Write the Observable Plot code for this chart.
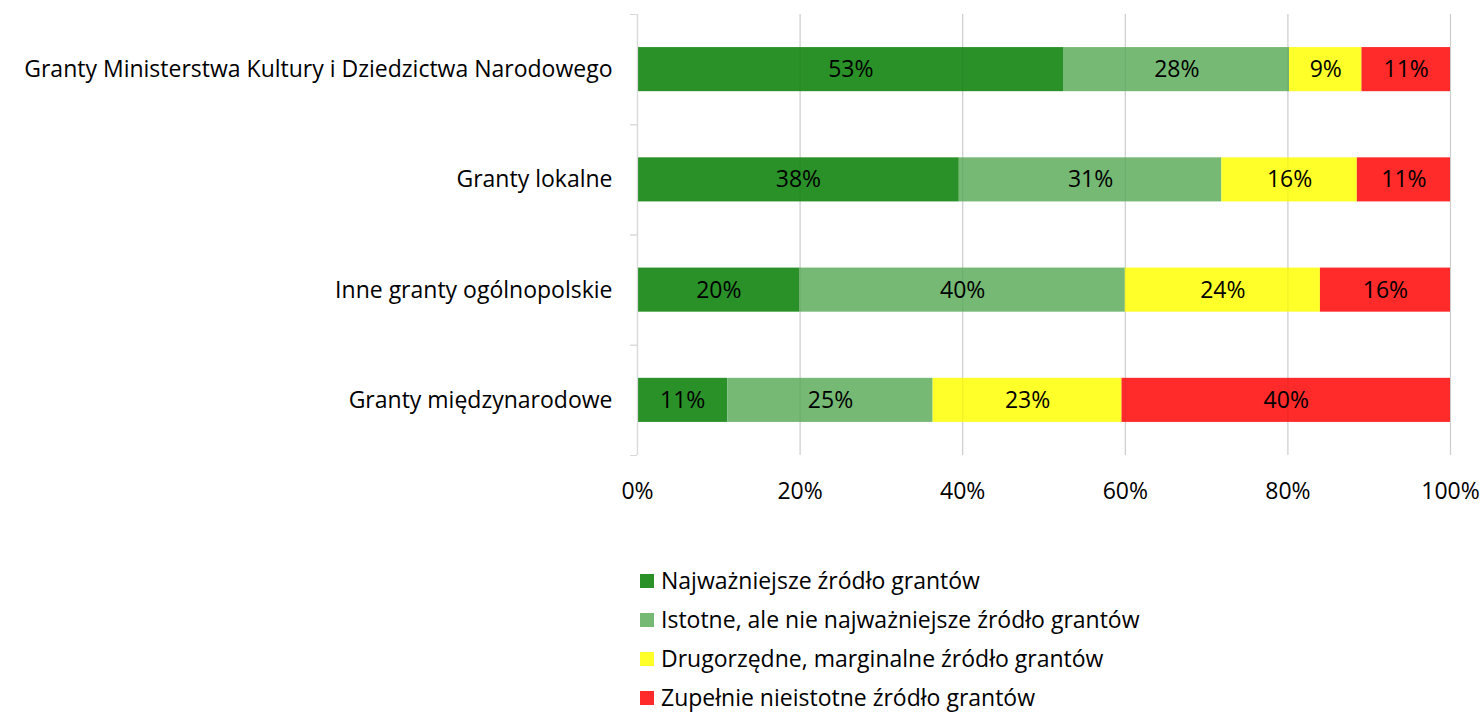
<!DOCTYPE html>
<html>
<head>
<meta charset="utf-8">
<script src="https://cdn.jsdelivr.net/npm/d3@7"></script>
<script src="https://cdn.jsdelivr.net/npm/@observablehq/plot@0.6"></script>
<style>
  body { margin: 0; background: #fff; font-family: "Open Sans", sans-serif; }
  #chart { position: absolute; left: 0; top: 0; }
  #legend { position: absolute; left: 640px; top: 561px; font-size: 23px; color: #000; }
  .item { height: 39px; line-height: 39px; display: flex; align-items: center; white-space: nowrap; }
  .sw { width: 14px; height: 14px; margin-right: 7px; display: inline-block; flex: none; }
</style>
</head>
<body>
<div id="chart"></div>
<div id="legend"></div>
<script>
const categories = [
  "Granty Ministerstwa Kultury i Dziedzictwa Narodowego",
  "Granty lokalne",
  "Inne granty ogólnopolskie",
  "Granty międzynarodowe"
];
const series = [
  "Najważniejsze źródło grantów",
  "Istotne, ale nie najważniejsze źródło grantów",
  "Drugorzędne, marginalne źródło grantów",
  "Zupełnie nieistotne źródło grantów"
];
const colors = ["#2a9128", "#75b975", "#ffff2a", "#ff2a2a"];
// values per category, in series order (percent)
const valuesNajwazniejsze = [53, 38, 20, 11];
const valuesIstotne = [28, 31, 40, 25];
const valuesDrugorzedne = [9, 16, 24, 23];
const valuesNieistotne = [11, 11, 16, 40];
const xTicks = [0, 0.2, 0.4, 0.6, 0.8, 1];

const seriesValues = [valuesNajwazniejsze, valuesIstotne, valuesDrugorzedne, valuesNieistotne];
const data = [];
categories.forEach((c, i) => {
  series.forEach((s, j) => {
    data.push({cat: c, ser: s, order: j, value: seriesValues[j][i]});
  });
});

const W = 1483, H = 530;
const mTop = 14, mBottom = 75, mLeft = 637, mRight = 33;
const step = (H - mTop - mBottom) / categories.length;
const FS = 23;

const stackOpts = {x: "value", y: "cat", z: "ser", offset: "normalize", order: series};

const chart = Plot.plot({
  width: W,
  height: H,
  marginTop: mTop,
  marginBottom: mBottom,
  marginLeft: mLeft,
  marginRight: mRight,
  style: {fontFamily: "'Open Sans', sans-serif", fontSize: FS + "px", color: "#000", background: "#fff"},
  x: {domain: [0, 1], ticks: xTicks, tickFormat: d3.format(".0%")},
  y: {domain: categories, paddingInner: 0.6, paddingOuter: 0.3, round: false, label: null},
  color: {domain: series, range: colors},
  marks: [
    Plot.gridX(xTicks, {stroke: "#d9d9d9", strokeOpacity: 1, strokeWidth: 1.2}),
    Plot.barX(data, Plot.stackX({...stackOpts, fill: "ser"})),
    Plot.gridX(xTicks.slice(1), {stroke: "#000", strokeOpacity: 0.06, strokeWidth: 1.2}),
    Plot.ruleX([0], {stroke: "#d9d9d9", strokeWidth: 1.2}),
    Plot.text(data, Plot.stackX({...stackOpts, text: d => d.value + "%", fill: "#000", fontSize: FS})),
    Plot.axisX({ticks: xTicks, tickFormat: d3.format(".0%"), tickSize: 0, tickPadding: 27, label: null, fontSize: FS}),
    Plot.axisY({tickSize: 0, tickPadding: 25, label: null, fontSize: FS}),
    Plot.axisY({tickSize: 7, tickFormat: () => "", dy: -step / 2, stroke: "#d9d9d9", label: null}),
    Plot.axisY({tickSize: 7, tickFormat: () => "", dy: step / 2, stroke: "#d9d9d9", label: null})
  ]
});
document.getElementById("chart").appendChild(chart);

const legend = document.getElementById("legend");
series.forEach((s, j) => {
  const it = document.createElement("div");
  it.className = "item";
  const sw = document.createElement("span");
  sw.className = "sw";
  sw.style.background = colors[j];
  it.appendChild(sw);
  const t = document.createElement("span");
  t.textContent = s;
  it.appendChild(t);
  legend.appendChild(it);
});
</script>
</body>
</html>
